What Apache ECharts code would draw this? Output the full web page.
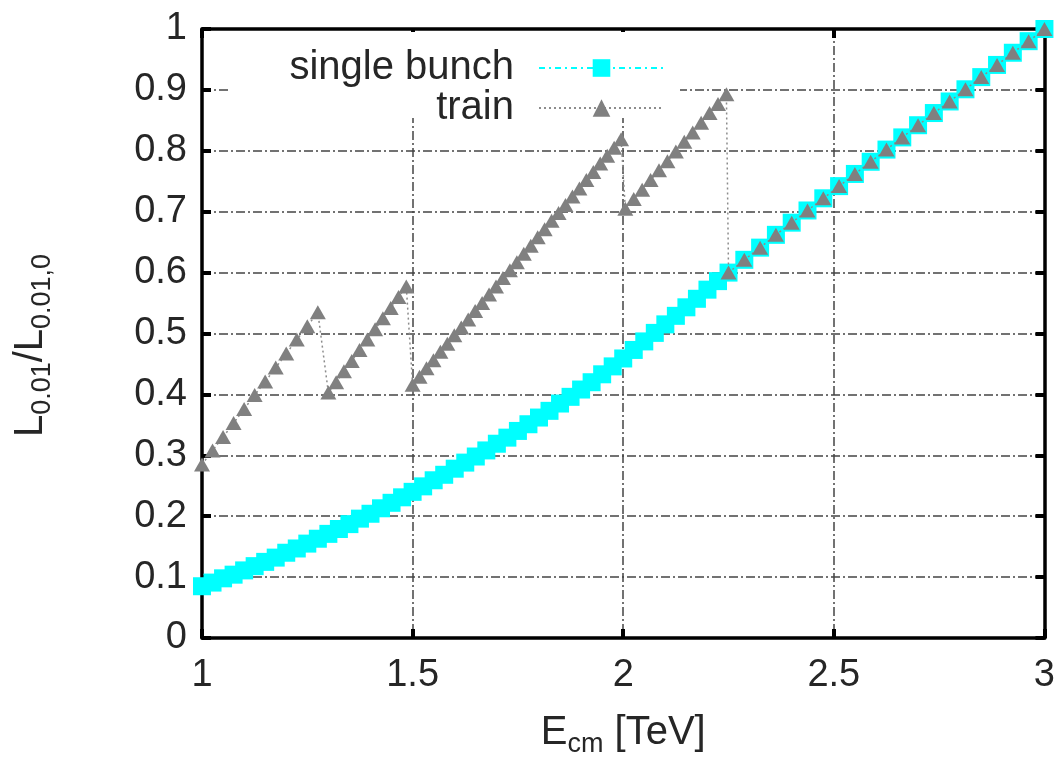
<!DOCTYPE html>
<html>
<head>
<meta charset="utf-8">
<script src="https://cdn.jsdelivr.net/npm/echarts@6/dist/echarts.min.js"></script>
<style>
  html, body { margin: 0; padding: 0; background: #ffffff; }
  #chart { width: 1058px; height: 763px; }
</style>
</head>
<body>
<div id="chart"></div>
<script>
// Centre-of-mass energy [TeV] and relative luminosity, single bunch operation
const bunchX = [
  1.000, 1.025, 1.050, 1.075, 1.100, 1.125, 1.150, 1.175, 1.200, 1.225,
  1.250, 1.275, 1.300, 1.325, 1.350, 1.375, 1.400, 1.425, 1.450, 1.475,
  1.500, 1.525, 1.550, 1.575, 1.600, 1.625, 1.650, 1.675, 1.700, 1.725,
  1.750, 1.775, 1.800, 1.825, 1.850, 1.875, 1.900, 1.925, 1.950, 1.975,
  2.000, 2.025, 2.050, 2.075, 2.100, 2.125, 2.150, 2.175, 2.200, 2.225,
  2.250, 2.2875, 2.325, 2.3625, 2.400, 2.4375, 2.475, 2.5125, 2.550, 2.5875,
  2.625, 2.6625, 2.700, 2.7375, 2.775, 2.8125, 2.850, 2.8875, 2.925, 2.9625,
  3.000
];
const bunchY = [
  0.085, 0.091, 0.098, 0.104, 0.111, 0.118, 0.125, 0.132, 0.140, 0.147,
  0.155, 0.163, 0.171, 0.179, 0.187, 0.196, 0.204, 0.213, 0.222, 0.231,
  0.240, 0.249, 0.259, 0.268, 0.278, 0.288, 0.298, 0.308, 0.319, 0.329,
  0.340, 0.351, 0.362, 0.373, 0.385, 0.396, 0.408, 0.420, 0.433, 0.446,
  0.459, 0.473, 0.487, 0.501, 0.515, 0.529, 0.543, 0.557, 0.572, 0.586,
  0.600, 0.621, 0.641, 0.662, 0.682, 0.702, 0.722, 0.742, 0.762, 0.782,
  0.802, 0.822, 0.842, 0.862, 0.881, 0.901, 0.921, 0.941, 0.961, 0.980,
  1.000
];

// Bunch-train operation (sawtooth where the structure count changes)
const trainX = [
  1.000, 1.025, 1.050, 1.075, 1.100, 1.125, 1.150, 1.175, 1.200, 1.225, 1.250, 1.275,
  1.300, 1.3185, 1.337, 1.3555, 1.374, 1.3925, 1.411, 1.4295, 1.448, 1.4665, 1.485,
  1.500, 1.5165, 1.533, 1.5495, 1.566, 1.5825, 1.599, 1.6155, 1.632, 1.6485, 1.665,
  1.6815, 1.698, 1.7145, 1.731, 1.7475, 1.764, 1.7805, 1.797, 1.8135, 1.830,
  1.8465, 1.863, 1.8795, 1.896, 1.9125, 1.929, 1.9455, 1.962, 1.9785, 1.995,
  2.005, 2.025, 2.045, 2.065, 2.085, 2.105, 2.125, 2.145, 2.165, 2.185, 2.205, 2.225, 2.245,
  2.250, 2.2875, 2.325, 2.3625, 2.400, 2.4375, 2.475, 2.5125, 2.550, 2.5875,
  2.625, 2.6625, 2.700, 2.7375, 2.775, 2.8125, 2.850, 2.8875, 2.925, 2.9625,
  3.000
];
const trainY = [
  0.285, 0.308, 0.330, 0.353, 0.376, 0.399, 0.421, 0.444, 0.467, 0.490, 0.512, 0.535,
  0.403, 0.420, 0.438, 0.455, 0.473, 0.490, 0.507, 0.525, 0.542, 0.560, 0.577,
  0.416, 0.429, 0.443, 0.456, 0.470, 0.483, 0.497, 0.510, 0.523, 0.537, 0.550,
  0.564, 0.577, 0.591, 0.604, 0.617, 0.631, 0.644, 0.658, 0.671, 0.685,
  0.698, 0.711, 0.725, 0.738, 0.752, 0.765, 0.779, 0.792, 0.805, 0.819,
  0.705, 0.721, 0.736, 0.752, 0.768, 0.783, 0.799, 0.815, 0.830, 0.846, 0.862, 0.877, 0.893,
  0.600, 0.621, 0.641, 0.662, 0.682, 0.702, 0.722, 0.742, 0.762, 0.782,
  0.802, 0.822, 0.842, 0.862, 0.881, 0.901, 0.921, 0.941, 0.961, 0.980,
  1.000
];

const seriesNames = ['single bunch', 'train'];

const FONT = '"Liberation Sans", Arial, Helvetica, sans-serif';
const TEXT = '#262626';
const gridDash = [9, 3, 2, 3];

const pairs = (xs, ys) => xs.map((x, i) => [x, ys[i]]);

const frameAxis = {
  axisLine: { show: true, onZero: false, lineStyle: { color: '#000', width: 3.5 } },
  axisTick: { show: true, inside: true, length: 9, lineStyle: { color: '#000', width: 4 } }
};

const nameRich = {
  m: { fontFamily: FONT, fontSize: 40, color: TEXT, lineHeight: 50, verticalAlign: 'middle' },
  s: { fontFamily: FONT, fontSize: 27, color: TEXT, lineHeight: 20, verticalAlign: 'bottom' }
};

const chart = echarts.init(document.getElementById('chart'), null, { renderer: 'canvas' });

chart.setOption({
  backgroundColor: '#ffffff',
  animation: false,
  grid: { left: 202, right: 13, top: 29, bottom: 121, containLabel: false },
  legend: {
    data: seriesNames,
    orient: 'vertical',
    align: 'right',
    right: 388,
    top: 43,
    itemWidth: 125,
    itemHeight: 22,
    itemGap: 0,
    selectedMode: false,
    textStyle: { fontFamily: FONT, fontSize: 40, color: TEXT, lineHeight: 37, padding: [0, 20, 0, 0] }
  },
  graphic: [{
    type: 'rect',
    z: 1,
    shape: { x: 229, y: 32, width: 451, height: 86 },
    style: { fill: '#ffffff' },
    silent: true
  }],
  xAxis: [{
    type: 'value',
    min: 1, max: 3, interval: 0.5,
    position: 'bottom',
    ...frameAxis,
    axisLabel: { fontFamily: FONT, fontSize: 38, color: TEXT, margin: 19 },
    splitLine: { show: true, lineStyle: { color: '#444', width: 1.5, type: gridDash } },
    name: '{m|E}{s|cm}{m| [TeV]}',
    nameLocation: 'middle',
    nameGap: 70,
    nameTextStyle: { fontFamily: FONT, color: TEXT, rich: nameRich }
  }, {
    type: 'value',
    min: 1, max: 3, interval: 0.5,
    position: 'top',
    ...frameAxis,
    axisLabel: { show: false },
    splitLine: { show: false }
  }],
  yAxis: [{
    type: 'value',
    min: 0, max: 1, interval: 0.1,
    position: 'left',
    ...frameAxis,
    axisLabel: { fontFamily: FONT, fontSize: 38, color: TEXT, margin: 15 },
    splitLine: { show: true, lineStyle: { color: '#444', width: 1.5, type: gridDash } },
    name: '{m|L}{s|0.01}{m|/L}{s|0.01,0}',
    nameLocation: 'middle',
    nameGap: 146,
    nameRotate: 90,
    nameTextStyle: { fontFamily: FONT, color: TEXT, padding: [0, 24, 0, 0], rich: nameRich }
  }, {
    type: 'value',
    min: 0, max: 1, interval: 0.1,
    position: 'right',
    ...frameAxis,
    axisLabel: { show: false },
    splitLine: { show: false }
  }],
  series: [{
    name: seriesNames[0],
    type: 'line',
    data: pairs(bunchX, bunchY),
    clip: false,
    symbol: 'rect',
    symbolSize: 18,
    showAllSymbol: true,
    itemStyle: { color: '#00ffff' },
    lineStyle: { color: '#00ffff', width: 1.2, type: [6, 4, 2, 4] },
    z: 2
  }, {
    name: seriesNames[1],
    type: 'line',
    data: pairs(trainX, trainY),
    clip: false,
    symbol: 'triangle',
    symbolSize: [16, 14],
    showAllSymbol: true,
    itemStyle: { color: '#808080' },
    lineStyle: { color: '#8c8c8c', width: 1.5, type: [2, 3] },
    z: 3
  }]
});
</script>
</body>
</html>
